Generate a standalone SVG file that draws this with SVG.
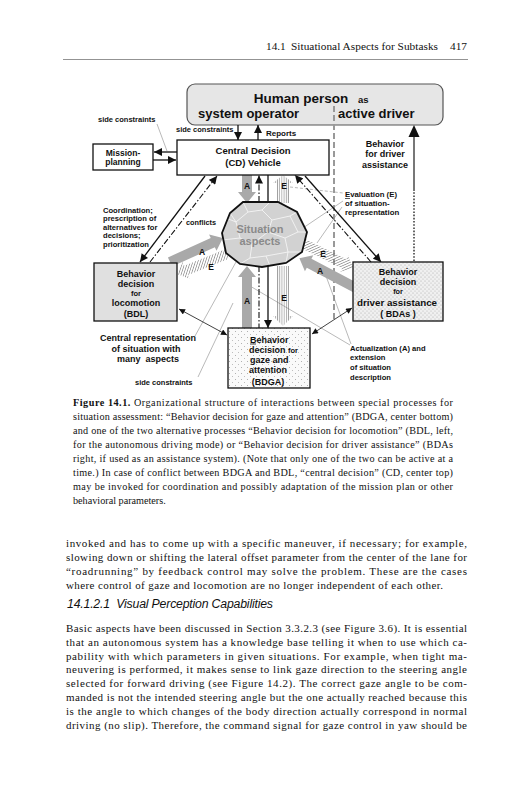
<svg xmlns="http://www.w3.org/2000/svg" width="527" height="800" viewBox="0 0 527 800">
<style>
.b{font-family:"Liberation Sans",Arial,sans-serif;font-weight:bold;fill:#111}
.t{font-family:"Liberation Serif","Times New Roman",serif;fill:#111}
.box{stroke:#111;stroke-width:1.3}
.ln{stroke:#111;stroke-width:1.3;fill:none}
.dd{stroke:#111;stroke-width:1.1;fill:none;stroke-dasharray:6 2 1.5 2}
.thin{stroke:#111;stroke-width:0.8;fill:none}
.lead{stroke:#8a8a8a;stroke-width:0.6;fill:none}
.garrow{fill:#a9a9a9}
</style>
<defs>
<marker id="ah" viewBox="0 0 10 10" refX="10" refY="5" markerWidth="9" markerHeight="8" markerUnits="userSpaceOnUse" orient="auto"><path d="M0,0 L10,5 L0,10 z" fill="#111"/></marker>
<marker id="ahs" viewBox="0 0 10 10" refX="10" refY="5" markerWidth="7" markerHeight="6" markerUnits="userSpaceOnUse" orient="auto-start-reverse"><path d="M0,0 L10,5 L0,10 z" fill="#111"/></marker>
<pattern id="hatchPar" patternUnits="userSpaceOnUse" width="10" height="2.2"><line x1="0" y1="1" x2="10" y2="1" stroke="#666" stroke-width="0.6"/></pattern>
<pattern id="hatchDiag" patternUnits="userSpaceOnUse" width="2.4" height="10" patternTransform="rotate(40)"><line x1="1.2" y1="0" x2="1.2" y2="10" stroke="#666" stroke-width="0.6"/></pattern>
<pattern id="stip1" patternUnits="userSpaceOnUse" width="4" height="4"><rect width="4" height="4" fill="#f0f0f0"/><circle cx="1" cy="1" r="0.5" fill="#999"/><circle cx="3" cy="3" r="0.5" fill="#aaa"/></pattern>
<pattern id="stip2" patternUnits="userSpaceOnUse" width="6" height="6"><rect width="6" height="6" fill="#fafafa"/><circle cx="1.5" cy="1.5" r="0.5" fill="#999"/><circle cx="4.5" cy="4.5" r="0.5" fill="#aaa"/></pattern>
<clipPath id="octClip"><polygon points="243,202 278,202 297,212 307,232 302,252 286,263 262,267 240,264 226,253 222,233 230,213"/></clipPath>
</defs>

<!-- page header -->
<g id="header">
<text class="t" x="266" y="50" font-size="11.3">14.1</text>
<text class="t" x="291" y="50" font-size="11.3" textLength="147" lengthAdjust="spacing">Situational Aspects for Subtasks</text>
<text class="t" x="450" y="50" font-size="11.3">417</text>
<line x1="63" y1="59.5" x2="468" y2="59.5" stroke="#777" stroke-width="0.8"/>
</g>

<g id="human">
<rect x="187" y="84" width="256" height="41" rx="8" fill="#e6e6e6" stroke="#555" stroke-width="1.2"/>
<text class="b" x="301" y="103" font-size="13.5" text-anchor="middle">Human person</text>
<text class="b" x="358" y="103" font-size="9.5">as</text>
<text class="b" x="198" y="118" font-size="13">system operator</text>
<text class="b" x="338" y="118" font-size="13">active driver</text>
</g>

<!-- connectors -->
<g id="connectors">
<line x1="334" y1="106" x2="334" y2="322" stroke="#999" stroke-width="2" stroke-dasharray="6 3"/>
<line class="lead" x1="157" y1="124" x2="167" y2="151"/>
<line class="lead" x1="195" y1="336" x2="236" y2="262"/>
<line class="lead" x1="198" y1="377" x2="233" y2="303"/>
<line class="lead" x1="350" y1="345" x2="250" y2="286"/>
<line class="lead" x1="351" y1="344" x2="326" y2="276"/>
<line class="lead" x1="290" y1="187" x2="343" y2="193" stroke-dasharray="3 2"/>
<line class="lead" x1="342" y1="207" x2="317" y2="243"/>
<line class="lead" x1="343" y1="201" x2="300" y2="230"/>
<line class="ln" x1="177" y1="152" x2="154" y2="152" marker-end="url(#ah)"/>
<line class="ln" x1="153" y1="160" x2="176" y2="160" marker-end="url(#ah)"/>
<line class="ln" x1="238" y1="125" x2="238" y2="140" marker-end="url(#ah)"/>
<line class="ln" x1="258" y1="140" x2="258" y2="125" marker-end="url(#ah)"/>
<line x1="414" y1="261" x2="414" y2="190" stroke="#666" stroke-width="2" stroke-dasharray="1.6 1.6"/>
<line x1="414" y1="191" x2="414" y2="134" stroke="#777" stroke-width="2"/>
<polygon points="414,125 408.5,137 419.5,137" fill="#111"/>
<line class="ln" x1="205" y1="176" x2="140" y2="262" marker-end="url(#ah)"/>
<line class="dd" x1="150" y1="262" x2="217" y2="176" marker-end="url(#ah)"/>
<line class="ln" x1="305" y1="176" x2="381" y2="262" marker-end="url(#ah)"/>
<line class="dd" x1="371" y1="262" x2="295" y2="175" marker-end="url(#ah)"/>
<line class="ln" x1="268" y1="175" x2="268" y2="328" marker-end="url(#ah)"/>
<line class="dd" x1="259" y1="202" x2="259" y2="175.5" marker-end="url(#ah)"/>
<line class="dd" x1="259" y1="266" x2="259" y2="328"/>
<polygon class="garrow" points="0,-5 17,-5 17,-9 28,0 17,9 17,5 0,5" transform="translate(247,175) rotate(90)"/>
<polygon class="garrow" points="0,-5 51,-5 51,-9 62,0 51,9 51,5 0,5" transform="translate(247,328) rotate(-90)"/>
<polygon class="garrow" points="0,-5 47,-5 47,-9 58,0 47,9 47,5 0,5" transform="translate(170,262) rotate(-24.4)"/>
<polygon class="garrow" points="0,-5 53,-5 53,-9 64,0 53,9 53,5 0,5" transform="translate(356,288) rotate(207.8)"/>
<polygon fill="url(#hatchPar)" points="0,-6 20,-6 20,-10 28,0 20,10 20,6 0,6" transform="translate(283,203) rotate(-90)"/>
<polygon fill="url(#hatchPar)" points="0,-6 50,-6 50,-10 60,0 50,10 50,6 0,6" transform="translate(283,266) rotate(90)"/>
<polygon fill="url(#hatchDiag)" points="0,-5 44,-5 44,-9 54,0 44,9 44,5 0,5" transform="translate(227,254) rotate(158.2)"/>
<polygon fill="url(#hatchDiag)" points="0,-5 47,-5 47,-9 57,0 47,9 47,5 0,5" transform="translate(302,243) rotate(26.1)"/>
<line class="thin" x1="179" y1="309" x2="227" y2="335" marker-start="url(#ahs)" marker-end="url(#ahs)"/>
<line class="thin" x1="352" y1="308" x2="312" y2="334" marker-start="url(#ahs)" marker-end="url(#ahs)"/>
</g>

<g id="situation">
<polygon points="243,202 278,202 297,212 307,232 302,252 286,263 262,267 240,264 226,253 222,233 230,213" fill="#d2d2d2"/>
<g clip-path="url(#octClip)" stroke="#f4f4f4" stroke-width="0.9" fill="none">
<path d="M243,202 L248,212 L262,210 L270,202 M248,212 L236,222 L226,218 M262,210 L272,220 L290,216 L297,212 M272,220 L268,232 M236,222 L240,238 L222,240 M290,216 L298,232 L307,232 M240,238 L252,244 L268,232 L285,238 L298,232 M252,244 L250,258 L240,264 M285,238 L288,252 L302,252 M250,258 L266,256 L270,266 M266,256 L288,252 M288,252 L286,263 M230,213 L236,222"/>
</g>
<polygon points="243,202 278,202 297,212 307,232 302,252 286,263 262,267 240,264 226,253 222,233 230,213" fill="none" stroke="#111" stroke-width="1.8"/>
<text class="b" x="260" y="233" font-size="11" text-anchor="middle" style="fill:#8a8a8a">Situation</text>
<text class="b" x="260" y="245" font-size="11" text-anchor="middle" style="fill:#8a8a8a">aspects</text>
</g>

<g id="cd">
<rect class="box" x="177" y="140" width="152" height="35" fill="#fff"/>
<text class="b" x="253" y="154" font-size="9.5" text-anchor="middle">Central Decision</text>
<text class="b" x="253" y="166" font-size="9.5" text-anchor="middle">(CD) Vehicle</text>
</g>

<g id="mission">
<rect class="box" x="93" y="144" width="60" height="26" fill="#fff"/>
<text class="b" x="123" y="156" font-size="8.5" text-anchor="middle">Mission-</text>
<text class="b" x="123" y="165" font-size="8.5" text-anchor="middle">planning</text>
</g>

<g id="bdl">
<rect class="box" x="94" y="263" width="83" height="58" fill="#e0e0e0"/>
<text class="b" x="136" y="277" font-size="9" text-anchor="middle">Behavior</text>
<text class="b" x="136" y="287" font-size="9" text-anchor="middle">decision</text>
<text class="b" x="136" y="296" font-size="7.5" text-anchor="middle">for</text>
<text class="b" x="136" y="306" font-size="9" text-anchor="middle">locomotion</text>
<text class="b" x="136" y="317" font-size="9" text-anchor="middle">(BDL)</text>
</g>

<g id="bdga">
<rect class="box" x="228" y="328" width="82" height="60" fill="url(#stip2)"/>
<text class="b" x="250" y="342.5" font-size="9">Behavior</text>
<line x1="250" y1="344" x2="256" y2="344" stroke="#111" stroke-width="0.8"/>
<text class="b" x="249" y="352.5" font-size="9">decision <tspan font-size="7.5">for</tspan></text>
<text class="b" x="250" y="362.5" font-size="9">gaze and</text>
<text class="b" x="249" y="372.5" font-size="9">attention</text>
<text class="b" x="268" y="384.5" font-size="9" text-anchor="middle">(BDGA)</text>
</g>

<g id="bdas">
<rect class="box" x="353" y="262" width="90" height="59" fill="url(#stip1)"/>
<text class="b" x="398" y="274.5" font-size="9" text-anchor="middle">Behavior</text>
<text class="b" x="398" y="285" font-size="9" text-anchor="middle">decision</text>
<text class="b" x="398" y="294" font-size="7.3" text-anchor="middle">for</text>
<text class="b" x="397" y="305.5" font-size="9.8" text-anchor="middle">driver assistance</text>
<text class="b" x="398" y="317" font-size="9" text-anchor="middle">( BDAs )</text>
</g>

<g id="labels">
<text class="b" x="98" y="122" font-size="7.5">side constraints</text>
<text class="b" x="176" y="132" font-size="7.5">side constraints</text>
<text class="b" x="266" y="136" font-size="8">Reports</text>
<text class="b" x="385" y="147" font-size="9" text-anchor="middle">Behavior</text>
<text class="b" x="385" y="157" font-size="9" text-anchor="middle">for driver</text>
<text class="b" x="385" y="168" font-size="9" text-anchor="middle">assistance</text>
<text class="b" x="103" y="213" font-size="7.6">Coordination;</text>
<text class="b" x="103" y="221" font-size="7.6">prescription of</text>
<text class="b" x="103" y="229.5" font-size="7.6">alternatives for</text>
<text class="b" x="103" y="238" font-size="7.6">decisions;</text>
<text class="b" x="103" y="246.5" font-size="7.6">prioritization</text>
<text class="b" x="186" y="225" font-size="7.3">conflicts</text>
<text class="b" x="345" y="197" font-size="7.8">Evaluation (E)</text>
<line x1="345" y1="198.5" x2="350" y2="198.5" stroke="#111" stroke-width="0.7"/>
<text class="b" x="345" y="206" font-size="7.8">of situation-</text>
<text class="b" x="345" y="215" font-size="7.8">representation</text>
<text class="b" x="148" y="341" font-size="9" text-anchor="middle">Central representation</text>
<text class="b" x="146" y="352" font-size="9" text-anchor="middle">of situation with</text>
<text class="b" x="148" y="362" font-size="9" text-anchor="middle" xml:space="preserve">many  aspects</text>
<text class="b" x="135" y="385" font-size="7.5">side constraints</text>
<text class="b" x="350" y="351" font-size="7.6">Actualization (A) and</text>
<text class="b" x="350" y="360" font-size="7.6">extension</text>
<text class="b" x="350" y="370" font-size="7.6">of situation</text>
<text class="b" x="350" y="380" font-size="7.6">description</text>
<text class="b" x="247" y="189" font-size="8.5" text-anchor="middle">A</text>
<text class="b" x="284" y="189" font-size="8.5" text-anchor="middle">E</text>
<text class="b" x="247" y="304" font-size="8.5" text-anchor="middle">A</text>
<text class="b" x="284" y="301" font-size="8.5" text-anchor="middle">E</text>
<text class="b" x="202" y="255" font-size="8.5" text-anchor="middle">A</text>
<text class="b" x="211" y="270" font-size="8.5" text-anchor="middle">E</text>
<text class="b" x="323" y="257" font-size="8.5" text-anchor="middle">E</text>
<text class="b" x="320" y="274" font-size="8.5" text-anchor="middle">A</text>
</g>

<g id="caption" font-size="10.2">
<text class="t" x="73" y="405.5" textLength="380" lengthAdjust="spacing"><tspan font-weight="bold">Figure 14.1.</tspan> Organizational structure of interactions between special processes for</text>
<text class="t" x="73" y="419.5" textLength="380" lengthAdjust="spacing">situation assessment: “Behavior decision for gaze and attention” (BDGA, center bottom)</text>
<text class="t" x="73" y="433.5" textLength="380" lengthAdjust="spacing">and one of the two alternative processes “Behavior decision for locomotion” (BDL, left,</text>
<text class="t" x="73" y="447.5" textLength="380" lengthAdjust="spacing">for the autonomous driving mode) or “Behavior decision for driver assistance” (BDAs</text>
<text class="t" x="73" y="461.5" textLength="380" lengthAdjust="spacing">right, if used as an assistance system). (Note that only one of the two can be active at a</text>
<text class="t" x="73" y="475.5" textLength="380" lengthAdjust="spacing">time.) In case of conflict between BDGA and BDL, “central decision” (CD, center top)</text>
<text class="t" x="73" y="489.5" textLength="380" lengthAdjust="spacing">may be invoked for coordination and possibly adaptation of the mission plan or other</text>
<text class="t" x="73" y="503.5">behavioral parameters.</text>
</g>

<g id="body" font-size="11">
<text class="t" x="66" y="547" textLength="401" lengthAdjust="spacing">invoked and has to come up with a specific maneuver, if necessary; for example,</text>
<text class="t" x="66" y="561" textLength="401" lengthAdjust="spacing">slowing down or shifting the lateral offset parameter from the center of the lane for</text>
<text class="t" x="66" y="575" textLength="401" lengthAdjust="spacing">“roadrunning” by feedback control may solve the problem. These are the cases</text>
<text class="t" x="66" y="589" textLength="377" lengthAdjust="spacing">where control of gaze and locomotion are no longer independent of each other.</text>
<text x="67" y="608" font-family="Liberation Sans, Arial, sans-serif" font-style="italic" font-size="12.3" fill="#111" textLength="206" lengthAdjust="spacing" xml:space="preserve">14.1.2.1  Visual Perception Capabilities</text>
<text class="t" x="66" y="632" textLength="401" lengthAdjust="spacing">Basic aspects have been discussed in Section 3.3.2.3 (see Figure 3.6). It is essential</text>
<text class="t" x="66" y="645.8" textLength="401" lengthAdjust="spacing">that an autonomous system has a knowledge base telling it when to use which ca-</text>
<text class="t" x="66" y="659.6" textLength="401" lengthAdjust="spacing">pability with which parameters in given situations. For example, when tight ma-</text>
<text class="t" x="66" y="673.4" textLength="401" lengthAdjust="spacing">neuvering is performed, it makes sense to link gaze direction to the steering angle</text>
<text class="t" x="66" y="687.2" textLength="401" lengthAdjust="spacing">selected for forward driving (see Figure 14.2). The correct gaze angle to be com-</text>
<text class="t" x="66" y="701" textLength="401" lengthAdjust="spacing">manded is not the intended steering angle but the one actually reached because this</text>
<text class="t" x="66" y="714.8" textLength="401" lengthAdjust="spacing">is the angle to which changes of the body direction actually correspond in normal</text>
<text class="t" x="66" y="728.6" textLength="401" lengthAdjust="spacing">driving (no slip). Therefore, the command signal for gaze control in yaw should be</text>
</g>
</svg>
